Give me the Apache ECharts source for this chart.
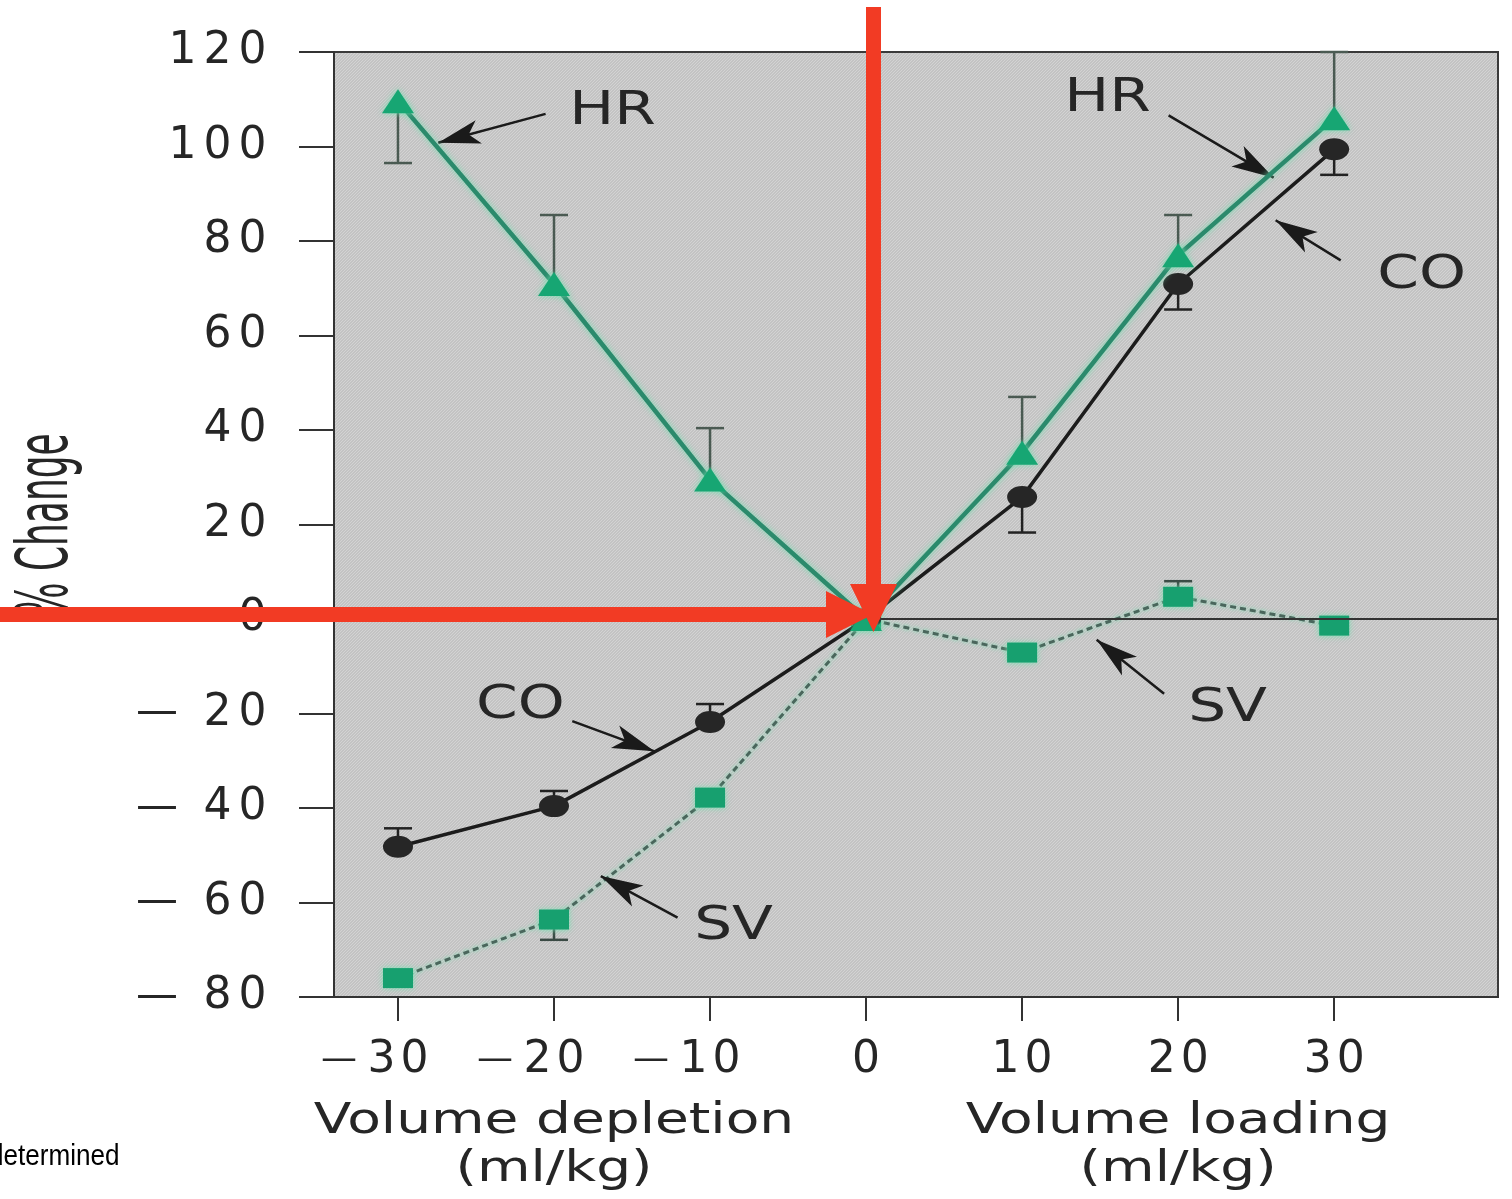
<!DOCTYPE html>
<html><head><meta charset="utf-8">
<script src="https://cdn.jsdelivr.net/npm/echarts@6.0.0/dist/echarts.min.js"></script>
<style>html,body{margin:0;padding:0;background:#ffffff;overflow:hidden}#c{width:1512px;height:1199px}</style>
</head><body><div id="c"></div>
<script>
// ---- data ----
var xValues = [-30, -20, -10, 0, 10, 20, 30];
var hrValues = [109.6, 70.9, 29.5, 0, 35.2, 77, 106];
var coValues = [-48.2, -39.6, -21.8, 0, 25.8, 70.9, 99.4];
var svValues = [-76, -63.6, -37.8, 0, -7.1, 4.7, -1.4];
var hrErrBound = [96.5, 85.5, 40.4, null, 47, 85.5, 120];
var coErrBound = [-44.3, -36.4, -18, null, 18.3, 65.5, 94];
var svErrBound = [null, -67.9, null, null, null, 8, null];
var xTickValues = [-30, -20, -10, 0, 10, 20, 30];
var xMin = -34.1, xMax = 40.5;
var yMin = -80, yMax = 120, yStep = 20;
var annotLabels = ['HR', 'HR', 'CO', 'SV', 'CO', 'SV'];
var annotLabelAt = [[-16.25, 107.2], [15.48, 110], [35.61, 72.5], [23.17, -19], [-22.15, -18.5], [-8.49, -65.3]];
var annotArrowFrom = [[-20.54, 106.9], [19.39, 106.6], [30.42, 75.9], [19.1, -15.8], [-18.83, -21.6], [-12.08, -63.2]];
var annotArrowTo = [[-27.42, 100.8], [26.12, 93.4], [26.25, 84.4], [14.78, -4.4], [-13.56, -28.0], [-17.0, -54.4]];
var xNames = [['Volume depletion', '(ml/kg)', -20], ['Volume loading', '(ml/kg)', 20]];
var yName = '% Change';

var FONT = '"DejaVu Sans", "Liberation Sans", sans-serif';
var TXT = '#262626';

function pairs(ys) { return xValues.map(function (x, i) { return [x, ys[i]]; }); }
function errData(vals, bounds) {
  var out = [];
  for (var i = 0; i < xValues.length; i++) if (bounds[i] !== null) out.push([xValues[i], vals[i], bounds[i]]);
  return out;
}
function errRender(color) {
  return function (params, api) {
    var x = api.value(0), v = api.value(1), b = api.value(2);
    var p0 = api.coord([x, v]), p1 = api.coord([x, b]);
    var cap = 14;
    return { type: 'group', children: [
      { type: 'line', shape: { x1: p0[0], y1: p0[1], x2: p1[0], y2: p1[1] }, style: { stroke: color, lineWidth: 2.5 } },
      { type: 'line', shape: { x1: p1[0] - cap, y1: p1[1], x2: p1[0] + cap, y2: p1[1] }, style: { stroke: color, lineWidth: 2.5 } }
    ] };
  };
}
function richLabel(v, trailing) {
  var s = String(Math.abs(v));
  var out = v < 0 ? '{m|\u2014}' : '';
  for (var i = 0; i < s.length; i++) out += '{d|' + s[i] + '}';
  if (trailing && v < 0) out += '{t|\u2014}';
  return out;
}
function richStyles(digitW, dashW, dashSize) {
  return {
    d: { width: digitW, align: 'center', fontSize: 44, fontFamily: FONT, color: TXT },
    m: { width: dashW, align: 'left', fontSize: dashSize, fontFamily: FONT, color: TXT },
    t: { width: dashW, align: 'center', fontSize: dashSize, fontFamily: FONT, color: 'rgba(0,0,0,0)' }
  };
}
function hatch() {
  var c = document.createElement('canvas');
  c.width = 6; c.height = 6;
  var ctx = c.getContext('2d');
  ctx.fillStyle = '#c3c3c3';
  ctx.fillRect(0, 0, 6, 6);
  ctx.fillStyle = '#d3d3d3';
  for (var i = 0; i < 6; i++) { ctx.fillRect(i, 5 - i, 1, 1); ctx.fillRect((i + 3) % 6, 5 - i, 1, 1); }
  return { image: c, repeat: 'repeat' };
}

var chart = echarts.init(document.getElementById('c'), null, { renderer: 'canvas' });
var glow = 'rgba(110,225,175,0.9)';

var arrowLines = annotArrowFrom.map(function (f, i) {
  return [{ coord: f }, { coord: annotArrowTo[i] }];
});

chart.setOption({
  animation: false,
  backgroundColor: '#ffffff',
  grid: { left: 334, right: 14, top: 52, bottom: 202, show: true, backgroundColor: hatch(), borderColor: '#3a3a3a', borderWidth: 2 },
  xAxis: {
    type: 'value', min: xMin, max: xMax,
    axisLine: { show: true, onZero: false, lineStyle: { color: '#333', width: 2 } },
    axisTick: { show: true, customValues: xTickValues, interval: 0, length: 24, lineStyle: { color: '#333', width: 2 } },
    axisLabel: { customValues: xTickValues, interval: 0, showMinLabel: true, showMaxLabel: true, hideOverlap: false, margin: 42,
      formatter: function (v) { return richLabel(v, true); }, rich: richStyles(33, 44, 36) },
    splitLine: { show: false }
  },
  yAxis: {
    type: 'value', min: yMin, max: yMax, interval: yStep,
    axisLine: { show: true, onZero: false, lineStyle: { color: '#333', width: 2 } },
    axisTick: { show: true, length: 35, lineStyle: { color: '#333', width: 2 } },
    axisLabel: { margin: 64, formatter: function (v) { return richLabel(v, false); }, rich: richStyles(35, 64, 42) },
    splitLine: { show: false }
  },
  series: [
    { type: 'custom', name: 'HR err', data: errData(hrValues, hrErrBound), renderItem: errRender('#4a5a52'), encode: { x: 0, y: [1, 2] }, z: 2, silent: true },
    { type: 'custom', name: 'CO err', data: errData(coValues, coErrBound), renderItem: errRender('#222'), encode: { x: 0, y: [1, 2] }, z: 2, silent: true },
    { type: 'custom', name: 'SV err', data: errData(svValues, svErrBound), renderItem: errRender('#3a4a44'), encode: { x: 0, y: [1, 2] }, z: 2, silent: true },
    {
      type: 'line', name: 'SV', data: pairs(svValues), z: 3,
      symbol: 'rect', symbolSize: [30, 20], showAllSymbol: true,
      itemStyle: { color: '#17a06f', shadowColor: glow, shadowBlur: 6 },
      lineStyle: { color: '#4a665c', width: 3, type: [6, 4], shadowColor: glow, shadowBlur: 4 },
      markLine: { silent: true, symbol: 'none', label: { show: false }, lineStyle: { color: '#333', width: 2, type: 'solid' }, data: [{ yAxis: 0 }] }
    },
    {
      type: 'line', name: 'CO', data: pairs(coValues), z: 4,
      symbol: 'circle', symbolSize: [30, 22], showAllSymbol: true,
      itemStyle: { color: '#262626' },
      lineStyle: { color: '#1c1c1c', width: 3.5 },
      markLine: { silent: true, symbol: ['none', 'arrow'], symbolSize: [18, 42], label: { show: false }, lineStyle: { color: '#1a1a1a', width: 2.5, type: 'solid' }, data: arrowLines }
    },
    {
      type: 'line', name: 'HR', data: pairs(hrValues), z: 5,
      symbol: 'triangle', symbolSize: [32, 24], showAllSymbol: true,
      itemStyle: { color: '#17a673', shadowColor: glow, shadowBlur: 6 },
      lineStyle: { color: '#2b8a6c', width: 4.5, shadowColor: glow, shadowBlur: 6 }
    }
  ]
});

// ---- annotations / overlay text ----
function px(c) { return chart.convertToPixel({ gridIndex: 0 }, c); }
var g = [];
annotLabels.forEach(function (t, i) {
  var p = px(annotLabelAt[i]);
  g.push({ type: 'text', x: p[0], y: p[1], scaleX: 1.3, z: 50,
    style: { text: t, font: '46px ' + FONT, fill: TXT, align: 'center', verticalAlign: 'middle', textAlign: 'center', textVerticalAlign: 'middle' } });
});
xNames.forEach(function (n) {
  var p = px([n[2], 0]);
  g.push({ type: 'text', x: p[0], y: 1122, scaleX: 1.31, z: 50,
    style: { text: n[0], font: '42px ' + FONT, fill: TXT, align: 'center', verticalAlign: 'middle', textAlign: 'center', textVerticalAlign: 'middle' } });
  g.push({ type: 'text', x: p[0], y: 1170, scaleX: 1.31, z: 50,
    style: { text: n[1], font: '42px ' + FONT, fill: TXT, align: 'center', verticalAlign: 'middle', textAlign: 'center', textVerticalAlign: 'middle' } });
});
g.push({ type: 'text', x: 48, y: 525, rotation: Math.PI / 2, scaleY: 2.0, z: 50,
  style: { text: yName, font: '36px ' + FONT, fill: TXT, align: 'center', verticalAlign: 'middle', textAlign: 'center', textVerticalAlign: 'middle' } });
g.push({ type: 'text', x: -11, y: 1172, scaleX: 0.87, z: 50,
  style: { text: 'determined', font: '30px "Liberation Sans", Arial, sans-serif', fill: '#000', align: 'left', verticalAlign: 'bottom', textAlign: 'left', textVerticalAlign: 'bottom' } });
// red overlay arrows
var RED = '#f23b24';
g.push({ type: 'rect', z: 100, shape: { x: 0, y: 607, width: 827, height: 15 }, style: { fill: RED } });
g.push({ type: 'polygon', z: 100, shape: { points: [[826, 591], [873, 614.5], [826, 638]] }, style: { fill: RED } });
g.push({ type: 'rect', z: 100, shape: { x: 866, y: 7, width: 15, height: 578 }, style: { fill: RED } });
g.push({ type: 'polygon', z: 100, shape: { points: [[850, 584], [897, 584], [873.5, 632]] }, style: { fill: RED } });
chart.setOption({ graphic: g });
</script></body></html>
